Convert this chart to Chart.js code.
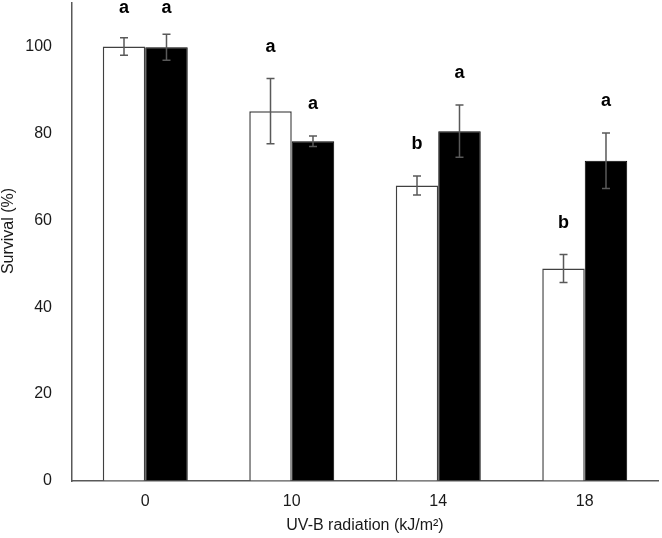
<!DOCTYPE html>
<html>
<head>
<meta charset="utf-8">
<script src="https://cdn.jsdelivr.net/npm/chart.js@4/dist/chart.umd.min.js"></script>
<style>
html,body{margin:0;padding:0;background:#fff;}
#wrap{width:662px;height:538px;}
</style>
</head>
<body>
<div id="wrap"><canvas id="c" width="662" height="538"></canvas></div>
<script>
const categories = ["0", "10", "14", "18"];
const whiteValues = [100, 85.1, 68.0, 48.9];
const whiteErrors = [2.0, 7.5, 2.2, 3.2];
const blackValues = [99.8, 78.2, 80.5, 73.7];
const blackErrors = [3.0, 1.2, 6.0, 6.4];
const whiteLetters = ["a", "a", "b", "b"];
const blackLetters = ["a", "a", "a", "a"];
const yTicks = [0, 20, 40, 60, 80, 100];
const yTitle = "Survival (%)";
const xTitle = "UV-B radiation (kJ/m²)";

const FONT = "'Liberation Sans', Arial, sans-serif";

const errorBarPlugin = {
  id: 'errorBars',
  afterDatasetsDraw(chart) {
    const ctx = chart.ctx;
    const y = chart.scales.y;
    const sets = [[whiteErrors, whiteLetters], [blackErrors, blackLetters]];
    sets.forEach(([errs, letters], di) => {
      const meta = chart.getDatasetMeta(di);
      const vals = chart.data.datasets[di].data;
      meta.data.forEach((bar, i) => {
        const x = bar.x;
        const top = y.getPixelForValue(vals[i] + errs[i]);
        const bot = y.getPixelForValue(vals[i] - errs[i]);
        ctx.save();
        ctx.strokeStyle = '#595959';
        ctx.lineWidth = 1.5;
        ctx.beginPath();
        ctx.moveTo(x, top); ctx.lineTo(x, bot);
        ctx.moveTo(x - 4, top); ctx.lineTo(x + 4, top);
        ctx.moveTo(x - 4, bot); ctx.lineTo(x + 4, bot);
        ctx.stroke();
        ctx.fillStyle = '#000';
        ctx.font = "bold 18px " + FONT;
        ctx.textAlign = 'center';
        ctx.textBaseline = 'middle';
        const ly = Math.max(top - 32, chart.chartArea.top + 5);
        ctx.fillText(letters[i], x, ly);
        ctx.restore();
      });
    });
  },
  afterDraw(chart) {
    const ctx = chart.ctx;
    const ca = chart.chartArea;
    ctx.save();
    ctx.translate(9, (ca.top + ca.bottom) / 2 - 11);
    ctx.rotate(-Math.PI / 2);
    ctx.fillStyle = '#1a1a1a';
    ctx.font = "16px " + FONT;
    ctx.textAlign = 'center';
    ctx.textBaseline = 'middle';
    ctx.fillText(yTitle, 0, 0);
    ctx.restore();
  }
};

new Chart(document.getElementById('c'), {
  type: 'bar',
  data: {
    labels: categories,
    datasets: [
      {
        data: whiteValues,
        backgroundColor: '#ffffff',
        borderColor: '#404040',
        borderWidth: 1.5,
        categoryPercentage: 0.58,
        barPercentage: 1.0
      },
      {
        data: blackValues,
        backgroundColor: '#000000',
        borderColor: '#000000',
        borderWidth: 1,
        categoryPercentage: 0.58,
        barPercentage: 1.0
      }
    ]
  },
  options: {
    responsive: false,
    animation: false,
    devicePixelRatio: 1,
    layout: { padding: { top: 3, right: 4, left: 0, bottom: 0 } },
    plugins: {
      legend: { display: false },
      tooltip: { enabled: false }
    },
    scales: {
      x: {
        grid: { display: false, drawTicks: false },
        border: { display: true, color: '#595959', width: 1.5 },
        ticks: { color: '#1a1a1a', font: { family: FONT, size: 16 }, padding: 11 },
        title: {
          display: true,
          text: xTitle,
          color: '#1a1a1a',
          font: { family: FONT, size: 16 },
          padding: { top: 2, bottom: 3 }
        },
        afterFit(s) { s.height = 57; }
      },
      y: {
        min: 0,
        max: 110,
        afterBuildTicks(s) { s.ticks = yTicks.map(v => ({ value: v })); },
        grid: { display: true, drawOnChartArea: false, drawTicks: true, tickLength: 20, color: 'rgba(0,0,0,0)' },
        border: { display: true, color: '#595959', width: 1.5 },
        ticks: { color: '#1a1a1a', font: { family: FONT, size: 16, lineHeight: 0.3 }, padding: 0 },
        title: { display: false },
        afterFit(s) { s.width = 72; }
      }
    }
  },
  plugins: [errorBarPlugin]
});
</script>
</body>
</html>
